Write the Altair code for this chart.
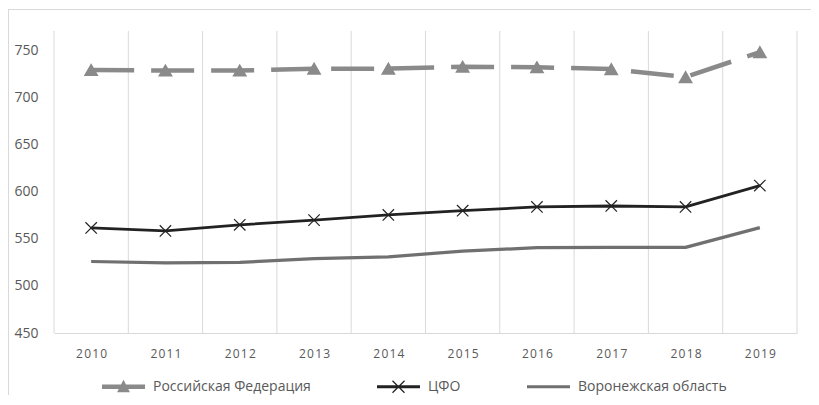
import altair as alt
import pandas as pd

years = [2010, 2011, 2012, 2013, 2014, 2015, 2016, 2017, 2018, 2019]
rf = [729.5, 729.0, 729.0, 731.0, 731.0, 733.0, 732.5, 730.5, 722.0, 748.6]
cfo = [561.7, 558.5, 565.0, 570.0, 575.5, 580.0, 584.0, 585.0, 584.0, 606.7]
vor = [526.0, 524.5, 525.0, 529.0, 531.0, 537.0, 540.7, 541.0, 541.0, 562.0]
series_names = ["Российская Федерация", "ЦФО", "Воронежская область"]
y_ticks = [450, 500, 550, 600, 650, 700, 750]

colors = ["#8a8a8a", "#222222", "#707070"]

rows = []
for name, vals in zip(series_names, [rf, cfo, vor]):
    for yr, v in zip(years, vals):
        rows.append({"year": yr, "value": v, "series": name})
df = pd.DataFrame(rows)

bounds = pd.DataFrame({"b": [y - 0.5 for y in years] + [years[-1] + 0.5]})

FONT = "Open Sans"
xscale = alt.Scale(domain=[years[0] - 0.5, years[-1] + 0.5], nice=False, zero=False)
yscale = alt.Scale(domain=[450, 771], nice=False, zero=False)

xenc = alt.X("year:Q", scale=xscale, axis=alt.Axis(
    values=years, grid=False, ticks=False, domainColor="#d9d9d9", domainWidth=1,
    labelFont=FONT, labelFontSize=12, labelColor="#595959", labelPadding=15,
    labelExpr="join(split(format(datum.value,'d'),''),'\u200a')", title=None))
yenc = alt.Y("value:Q", scale=yscale, axis=alt.Axis(
    values=y_ticks, grid=False, ticks=False, domain=False,
    labelFont=FONT, labelFontSize=14, labelColor="#595959", labelPadding=16, title=None))

frame = alt.Chart(bounds).mark_rect(fill=None, stroke="#d9d9d9", strokeWidth=1).encode(
    x=alt.value(-45.5), x2=alt.value(780), y=alt.value(-21.5), y2=alt.value(420))

grid = alt.Chart(bounds).mark_rule(color="#d9d9d9", strokeWidth=1).encode(
    x=alt.X("b:Q", scale=xscale))

base = alt.Chart(df).encode(x=xenc, y=yenc)

line_rf = base.transform_filter(alt.datum.series == series_names[0]).mark_line(
    color=colors[0], strokeWidth=4.5, strokeDash=[43, 17])
line_cfo = base.transform_filter(alt.datum.series == series_names[1]).mark_line(
    color=colors[1], strokeWidth=2.8, strokeJoin="round")
line_vor = base.transform_filter(alt.datum.series == series_names[2]).mark_line(
    color=colors[2], strokeWidth=3.2, strokeJoin="round")

pts_rf = base.transform_filter(alt.datum.series == series_names[0]).mark_point(
    shape="triangle-up", size=150, filled=True, color=colors[0], opacity=1,
    stroke=colors[0], strokeWidth=1.5)
pts_cfo = base.transform_filter(alt.datum.series == series_names[1]).mark_point(
    shape="M-1,-1L1,1M1,-1L-1,1", size=130, filled=False, color=colors[1],
    opacity=1, strokeWidth=1.2)

leg_paths = [
    "M-1,-0.105H1V0.105H-1Z M-0.3,0.25L0,-0.33L0.3,0.25Z",
    "M-1,-0.065H1V0.065H-1Z M-0.26,-0.3L0.3,0.26L0.26,0.3L-0.3,-0.26Z M-0.3,0.26L0.26,-0.3L0.3,-0.26L-0.26,0.3Z",
    "M-1,-0.075H1V0.075H-1Z",
]

def mk_legend():
    return alt.Legend(title=None, orient="none", legendX=48, legendY=334,
                      direction="horizontal", symbolSize=1849, symbolStrokeWidth=0,
                      symbolOpacity=1, labelFont=FONT, labelFontSize=14,
                      labelColor="#595959", labelOffset=8, columnPadding=66,
                      labelLimit=400)

leg = base.mark_point(filled=True, opacity=0, strokeWidth=0).encode(
    shape=alt.Shape("series:N", scale=alt.Scale(domain=series_names, range=leg_paths),
                    legend=mk_legend()),
    fill=alt.Fill("series:N", scale=alt.Scale(domain=series_names, range=colors),
                  legend=mk_legend()),
)

chart = alt.layer(frame, grid, line_vor, line_cfo, line_rf, pts_rf, pts_cfo, leg).properties(
    width=743, height=302,
    autosize=alt.AutoSizeParams(type="none"),
    padding={"left": 46, "top": 23, "right": 14, "bottom": 62},
).configure_view(stroke=None)

chart.save("out.html", embed_options={"renderer": "svg", "actions": False})
